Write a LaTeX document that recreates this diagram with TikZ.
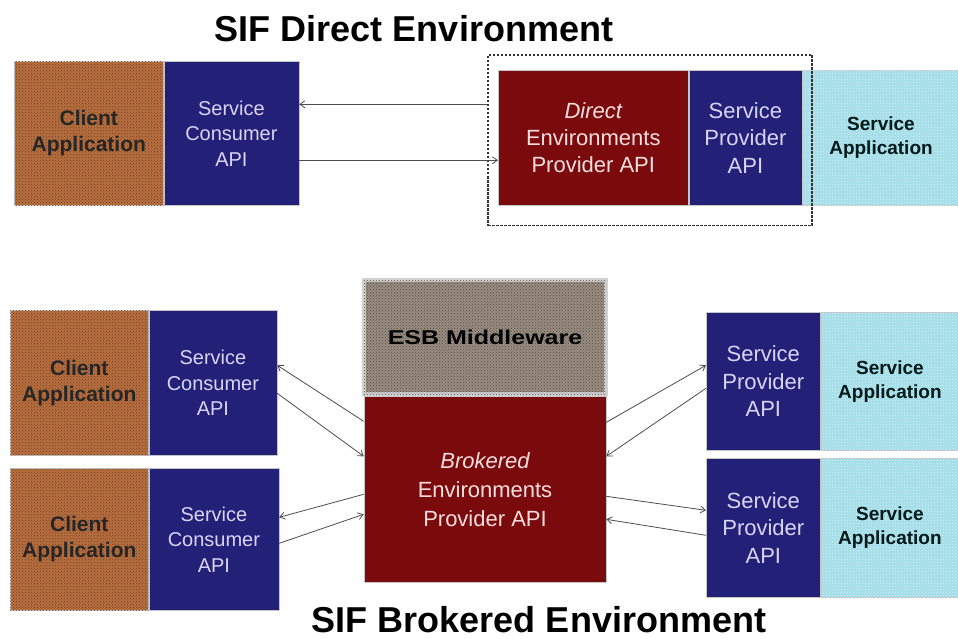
\documentclass[tikz,border=0pt]{standalone}
\usepackage{fontspec}
\setmainfont{Liberation Sans}
\newfontfamily\widesans{Liberation Sans}[FakeStretch=1.25]
\usepackage{tikz}
\usetikzlibrary{positioning,fit,arrows.meta,patterns}
\definecolor{sifnavy}{RGB}{35,32,120}
\definecolor{sifred}{RGB}{122,10,12}
\definecolor{sifbrown}{RGB}{184,110,62}
\definecolor{sifcyan}{RGB}{162,221,232}
\definecolor{sifgrey}{RGB}{152,140,128}
\definecolor{navytext}{RGB}{214,214,246}
\definecolor{redtext}{RGB}{248,222,222}

\begin{document}
\begin{tikzpicture}[x=1pt, y=-1pt,
    box/.style={draw=gray!45, line width=0.6pt, inner sep=0pt, align=center},
    api/.style={box, fill=sifnavy, text=navytext, font=\fontsize{20}{25.5}\selectfont},
    prov/.style={box, fill=sifnavy, text=navytext, font=\fontsize{22}{27.5}\selectfont},
    envp/.style={box, fill=sifred, text=redtext, font=\fontsize{22}{27}\selectfont},
    client/.style={box, fill=sifbrown, text=black!85, font=\bfseries\fontsize{21}{26}\selectfont,
        postaction={pattern=crosshatch dots, pattern color=sifbrown!60!black}},
    svcapp/.style={box, fill=sifcyan, text=black!80!teal, font=\bfseries\fontsize{19}{24}\selectfont,
        postaction={pattern=crosshatch dots, pattern color=white!60!sifcyan}},
    flow/.style={draw=gray!60!black, line width=0.8pt, -{Straight Barb[length=5pt,width=7pt]}},
    title/.style={font=\bfseries\fontsize{36}{40}\selectfont}
]
    \useasboundingbox (0,0) rectangle (958,639);

    % Direct environment
    \node[title] (ttldirect) at (414,29) {SIF Direct Environment};

    \node[client, anchor=north west, minimum width=149pt, minimum height=144pt] (capp1) at (14,61) {Client\\Application};
    \node[api, right=0pt of capp1, minimum width=135pt, minimum height=144pt] (cons1) {Service\\Consumer\\API};

    \node[envp, anchor=north west, minimum width=190pt, minimum height=135pt] (dep) at (498,70) {\itshape Direct\\Environments\\Provider API};
    \node[prov, right=0pt of dep, minimum width=113pt, minimum height=135pt] (sprov1) {Service\\Provider\\API};
    \node[svcapp, right=0pt of sprov1, minimum width=157pt, minimum height=135pt] (sapp1) {Service\\Application};

    \node[draw=gray!40!black, line width=1.5pt, dash pattern=on 2.5pt off 1.5pt, fit=(dep)(sprov1),
        inner xsep=10pt, inner ysep=17.5pt, yshift=-2.5pt] (frame) {};

    \draw[flow] ([yshift=36pt]frame.west) -- ([yshift=29pt]cons1.east);
    \draw[flow] ([yshift=-27pt]cons1.east) -- ([yshift=-22.5pt]dep.west);

    % Brokered environment
    \node[box, anchor=north west, fill=sifgrey, draw=gray!35, line width=4pt, minimum width=242pt, minimum height=114pt,
        postaction={pattern=crosshatch dots, pattern color=sifgrey!55!black}] (esb) at (362,278)
        {\widesans\bfseries\fontsize{20}{24}\selectfont ESB Middleware};
    \node[envp, below=0pt of esb, minimum width=242pt, minimum height=186pt, font=\fontsize{22}{29}\selectfont] (bep) {\itshape Brokered\\Environments\\Provider API};

    \node[client, anchor=north west, minimum width=138pt, minimum height=145pt] (capp2) at (10,310) {Client\\Application};
    \node[api, right=0pt of capp2, minimum width=128pt, minimum height=145pt] (cons2) {Service\\Consumer\\API};
    \node[client, anchor=north west, minimum width=138pt, minimum height=142pt] (capp3) at (10,468) {Client\\Application};
    \node[api, right=0pt of capp3, minimum width=130pt, minimum height=142pt] (cons3) {Service\\Consumer\\API};

    \node[prov, anchor=north west, minimum width=114pt, minimum height=138pt] (sprov2) at (706,312) {Service\\Provider\\API};
    \node[svcapp, right=0pt of sprov2, minimum width=138pt, minimum height=138pt] (sapp2) {Service\\Application};
    \node[prov, anchor=north west, minimum width=114pt, minimum height=139pt] (sprov3) at (706,458) {Service\\Provider\\API};
    \node[svcapp, right=0pt of sprov3, minimum width=138pt, minimum height=139pt] (sapp3) {Service\\Application};

    \draw[flow] ([yshift=68pt]bep.west) -- ([yshift=17.5pt]cons2.east);
    \draw[flow] ([yshift=-10.5pt]cons2.east) -- ([yshift=33pt]bep.west);
    \draw[flow] ([yshift=-5pt]bep.west) -- ([yshift=22pt]cons3.east);
    \draw[flow] ([yshift=-4pt]cons3.east) -- ([yshift=-25pt]bep.west);

    \draw[flow] ([yshift=67pt]bep.east) -- ([yshift=16pt]sprov2.west);
    \draw[flow] ([yshift=-7pt]sprov2.west) -- ([yshift=33pt]bep.east);
    \draw[flow] ([yshift=-7pt]bep.east) -- ([yshift=17.5pt]sprov3.west);
    \draw[flow] ([yshift=-7.5pt]sprov3.west) -- ([yshift=-30pt]bep.east);

    \node[title] (ttlbrokered) at (539,620) {SIF Brokered Environment};
\end{tikzpicture}
\end{document}
